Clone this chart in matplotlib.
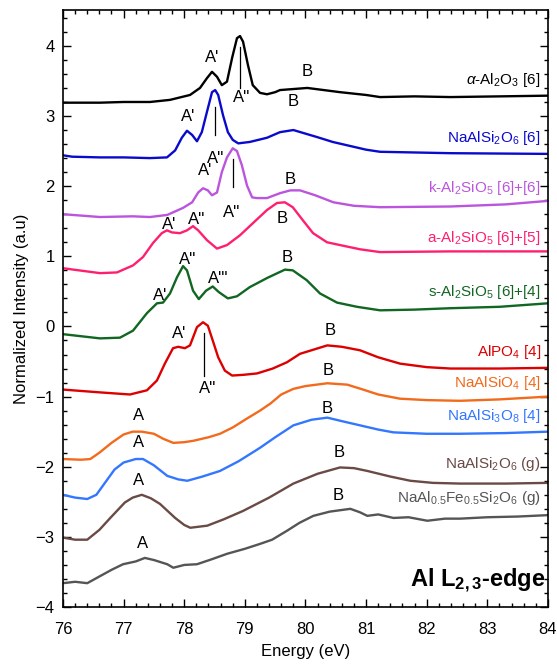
import matplotlib
matplotlib.use("Agg")
import matplotlib.pyplot as plt
from matplotlib.ticker import MultipleLocator

plt.rcParams['font.family'] = ['Liberation Sans', 'DejaVu Sans']
plt.rcParams['mathtext.fontset'] = 'custom'
plt.rcParams['mathtext.rm'] = 'Liberation Sans'
plt.rcParams['mathtext.it'] = 'Liberation Sans:italic'
plt.rcParams['mathtext.bf'] = 'Liberation Sans:bold'

# ---- data (energy eV, normalized intensity) ----
alumina_x = [76.0, 76.61, 77.0, 77.435, 77.765, 78.095, 78.26, 78.375, 78.458, 78.54, 78.62, 78.705, 78.79, 78.87, 78.92,
             78.97, 79.05, 79.13, 79.25, 79.365, 79.50, 79.58, 80.03, 80.57, 81.0, 81.23, 81.8, 82.39, 83.2, 84.0]
alumina_y = [3.19, 3.19, 3.20, 3.20, 3.23, 3.30, 3.40, 3.54, 3.63, 3.56, 3.44, 3.49, 3.83, 4.11, 4.14,
             4.06, 3.73, 3.44, 3.33, 3.31, 3.34, 3.37, 3.40, 3.34, 3.30, 3.27, 3.28, 3.27, 3.28, 3.29]

jadeite_x = [76.0, 76.15, 76.61, 77.0, 77.435, 77.715, 77.85, 77.96, 78.045, 78.13, 78.21, 78.29, 78.375, 78.458, 78.51,
             78.56, 78.64, 78.72, 78.80, 78.89, 79.08, 79.365, 79.58, 79.80, 80.19, 80.45, 80.7, 81.0, 81.23, 82.39, 84.0]
jadeite_y = [2.44, 2.42, 2.41, 2.41, 2.40, 2.41, 2.51, 2.69, 2.79, 2.73, 2.64, 2.77, 3.06, 3.34, 3.37,
             3.30, 3.01, 2.77, 2.66, 2.61, 2.63, 2.69, 2.77, 2.80, 2.70, 2.63, 2.58, 2.52, 2.49, 2.47, 2.46]

kyanite_x = [76.0, 76.61, 77.155, 77.435, 77.72, 77.98, 78.13, 78.23, 78.31, 78.39, 78.458, 78.54, 78.62, 78.705, 78.80,
             78.87, 78.95, 79.035, 79.12, 79.20, 79.365, 79.58, 79.75, 79.91, 80.16, 80.46, 80.8, 81.23, 82.39, 83.3, 84.0]
kyanite_y = [1.60, 1.56, 1.57, 1.56, 1.59, 1.69, 1.77, 1.91, 1.97, 1.94, 1.87, 1.91, 2.20, 2.41, 2.54,
             2.50, 2.30, 2.01, 1.84, 1.83, 1.83, 1.90, 1.94, 1.94, 1.87, 1.77, 1.72, 1.70, 1.71, 1.74, 1.79]

andalusite_x = [76.0, 76.61, 76.89, 77.155, 77.32, 77.485, 77.63, 77.715, 77.80, 77.93, 78.045, 78.145, 78.23, 78.375, 78.54,
                78.705, 78.92, 79.13, 79.365, 79.53, 79.66, 79.79, 79.96, 80.125, 80.355, 80.57, 80.9, 81.23, 82.39, 84.0]
andalusite_y = [0.83, 0.76, 0.77, 0.87, 0.99, 1.19, 1.33, 1.37, 1.34, 1.33, 1.37, 1.43, 1.37, 1.23, 1.11,
                1.16, 1.30, 1.47, 1.66, 1.76, 1.77, 1.70, 1.51, 1.33, 1.20, 1.16, 1.10, 1.06, 1.07, 1.07]

sillimanite_x = [76.0, 76.61, 76.94, 77.155, 77.385, 77.55, 77.65, 77.765, 77.88, 77.98, 78.045, 78.145, 78.24, 78.36, 78.47,
                 78.57, 78.72, 78.87, 79.08, 79.365, 79.66, 79.79, 80.02, 80.24, 80.52, 80.85, 81.23, 81.8, 82.39, 83.2, 84.0]
sillimanite_y = [-0.11, -0.17, -0.16, -0.06, 0.19, 0.33, 0.34, 0.47, 0.70, 0.86, 0.80, 0.51, 0.39, 0.51, 0.57,
                 0.49, 0.40, 0.43, 0.56, 0.69, 0.81, 0.80, 0.66, 0.47, 0.34, 0.28, 0.23, 0.24, 0.26, 0.28, 0.33]

alpo4_x = [76.0, 76.61, 77.105, 77.385, 77.55, 77.68, 77.815, 77.90, 78.01, 78.095, 78.21, 78.31, 78.39, 78.47, 78.56,
           78.67, 78.79, 78.97, 79.20, 79.46, 79.695, 79.91, 80.36, 80.6, 80.90, 81.2, 81.56, 82.0, 82.39, 83.2, 84.0]
alpo4_y = [-0.90, -0.94, -0.97, -0.91, -0.77, -0.53, -0.31, -0.29, -0.31, -0.27, -0.01, 0.06, 0.01, -0.20, -0.44,
           -0.63, -0.70, -0.69, -0.67, -0.60, -0.51, -0.39, -0.27, -0.29, -0.34, -0.44, -0.53, -0.58, -0.60, -0.60, -0.59]

nepheline_x = [76.0, 76.3, 76.45, 76.6, 76.8, 77.0, 77.15, 77.3, 77.5, 77.65, 77.82, 78.0, 78.15, 78.4, 78.59, 78.8,
               79.04, 79.25, 79.42, 79.6, 79.8, 80.0, 80.36, 80.69, 80.95, 81.2, 81.56, 82.0, 82.55, 83.2, 84.0]
nepheline_y = [-1.89, -1.90, -1.89, -1.80, -1.66, -1.54, -1.50, -1.50, -1.53, -1.60, -1.66, -1.65, -1.63, -1.58, -1.53, -1.44,
               -1.31, -1.20, -1.10, -0.97, -0.89, -0.85, -0.81, -0.83, -0.90, -0.97, -1.03, -1.05, -1.06, -1.04, -1.00]

albite_x = [76.0, 76.2, 76.4, 76.55, 76.7, 76.85, 77.0, 77.2, 77.32, 77.5, 77.72, 77.9, 78.05, 78.3, 78.59, 78.9,
            79.25, 79.5, 79.8, 80.1, 80.36, 80.6, 80.9, 81.2, 81.45, 82.0, 82.55, 83.3, 84.0]
albite_y = [-2.40, -2.44, -2.46, -2.40, -2.22, -2.04, -1.94, -1.89, -1.89, -1.98, -2.13, -2.18, -2.20, -2.14, -2.06, -1.92,
            -1.73, -1.58, -1.41, -1.33, -1.30, -1.35, -1.41, -1.47, -1.51, -1.53, -1.53, -1.52, -1.50]

jdglass_x = [76.0, 76.2, 76.4, 76.6, 76.78, 77.02, 77.15, 77.30, 77.45, 77.60, 77.85, 78.0, 78.10, 78.38, 78.65, 78.97,
             79.4, 79.80, 80.2, 80.57, 80.8, 81.02, 81.4, 81.73, 82.1, 82.55, 83.3, 84.0]
jdglass_y = [-3.01, -3.04, -3.04, -2.90, -2.73, -2.51, -2.44, -2.40, -2.45, -2.53, -2.73, -2.83, -2.87, -2.84, -2.75, -2.63,
             -2.44, -2.24, -2.10, -2.01, -2.02, -2.06, -2.14, -2.20, -2.23, -2.24, -2.24, -2.23]

fejd_x = [76.0, 76.2, 76.40, 76.61, 76.8, 76.99, 77.2, 77.35, 77.5, 77.72, 77.82, 78.0, 78.21, 78.45, 78.71, 79.0, 79.25,
          79.45, 79.70, 79.9, 80.13, 80.4, 80.74, 80.9, 81.02, 81.2, 81.45, 81.7, 82.01, 82.3, 82.55, 83.0, 83.5, 84.0]
fejd_y = [-3.66, -3.64, -3.66, -3.56, -3.47, -3.39, -3.35, -3.30, -3.33, -3.39, -3.44, -3.40, -3.39, -3.32, -3.24, -3.17, -3.10,
          -3.04, -2.91, -2.80, -2.70, -2.64, -2.60, -2.65, -2.70, -2.68, -2.73, -2.72, -2.77, -2.74, -2.74, -2.72, -2.71, -2.69]

series = [
    (alumina_x, alumina_y, '#000000', r'$\alpha$-Al$_2$O$_3$ [6]', 3.51),
    (jadeite_x, jadeite_y, '#0a0acd', r'NaAlSi$_2$O$_6$ [6]', 2.68),
    (kyanite_x, kyanite_y, '#bb55dd', r'k-Al$_2$SiO$_5$ [6]+[6]', 1.97),
    (andalusite_x, andalusite_y, '#ff1f6f', r'a-Al$_2$SiO$_5$ [6]+[5]', 1.26),
    (sillimanite_x, sillimanite_y, '#116622', r's-Al$_2$SiO$_5$ [6]+[4]', 0.49),
    (alpo4_x, alpo4_y, '#dd0000', r'AlPO$_4$ [4]', -0.37),
    (nepheline_x, nepheline_y, '#f26b1d', r'NaAlSiO$_4$ [4]', -0.81),
    (albite_x, albite_y, '#3377ff', r'NaAlSi$_3$O$_8$ [4]', -1.27),
    (jdglass_x, jdglass_y, '#6a4a44', r'NaAlSi$_2$O$_6$ (g)', -1.96),
    (fejd_x, fejd_y, '#555555', r'NaAl$_{0.5}$Fe$_{0.5}$Si$_2$O$_6$ (g)', -2.44),
]

# peak labels: (x, y, text)
peak_labels = [
    (78.46, 3.84, "A'"), (78.94, 3.27, "A''"), (80.03, 3.63, "B"),
    (78.06, 2.99, "A'"), (78.52, 2.40, "A''"), (79.80, 3.20, "B"),
    (78.34, 2.23, "A'"), (78.79, 1.63, "A''"), (79.75, 2.09, "B"),
    (77.75, 1.46, "A'"), (78.21, 1.53, "A''"), (79.61, 1.54, "B"),
    (77.60, 0.44, "A'"), (78.05, 0.96, "A''"), (78.56, 0.69, "A'''"), (79.70, 0.99, "B"),
    (77.91, -0.10, "A'"), (78.38, -0.89, "A''"), (80.41, -0.06, "B"),
    (77.24, -1.27, "A"), (80.37, -0.63, "B"),
    (77.25, -1.66, "A"), (80.36, -1.17, "B"),
    (77.25, -2.20, "A"), (80.55, -1.79, "B"),
    (77.32, -3.09, "A"), (80.54, -2.41, "B"),
]

# marker lines: (x, y0, y1)
marker_lines = [
    (78.92, 3.99, 3.40),
    (78.51, 3.13, 2.73),
    (78.81, 2.39, 1.99),
    (78.33, -0.10, -0.71),
]

fig = plt.figure(figsize=(5.57, 6.64), dpi=100)
ax = fig.add_axes([0.1131, 0.0858, 0.8707, 0.899])

for xs, ys, col, lab, ly in series:
    ax.plot(xs, ys, color=col, lw=1.7)
    ax.text(83.88, ly, lab, color=col, fontsize=11, ha='right', va='center')

for x, y, t in peak_labels:
    ax.text(x, y, t, fontsize=12, ha='center', va='center', color='black')

for x, y0, y1 in marker_lines:
    ax.plot([x, x], [y0, y1], color='black', lw=0.9)

ax.text(83.95, -3.63, r'Al L$_{\mathbf{2,3}}$-edge', fontsize=17, fontweight='bold',
        ha='right', va='center')

ax.set_xlim(76, 84)
ax.set_ylim(-4, 4.51)
ax.xaxis.set_major_locator(MultipleLocator(1))
ax.xaxis.set_minor_locator(MultipleLocator(0.2))
ax.yaxis.set_major_locator(MultipleLocator(1))
ax.yaxis.set_minor_locator(MultipleLocator(0.2))
ax.tick_params(which='both', direction='in', top=True, right=True, labelsize=12)
ax.tick_params(which='major', length=6, width=1)
ax.tick_params(which='minor', length=3, width=1)
ax.tick_params(axis='x', pad=11)
ax.tick_params(axis='y', pad=6)
for s in ax.spines.values():
    s.set_linewidth(1.2)
ax.set_xlabel('Energy (eV)', fontsize=12, labelpad=5)
ax.set_ylabel('Normalized Intensity (a.u)', fontsize=12, labelpad=5)

fig.savefig('out.png', dpi=100)
